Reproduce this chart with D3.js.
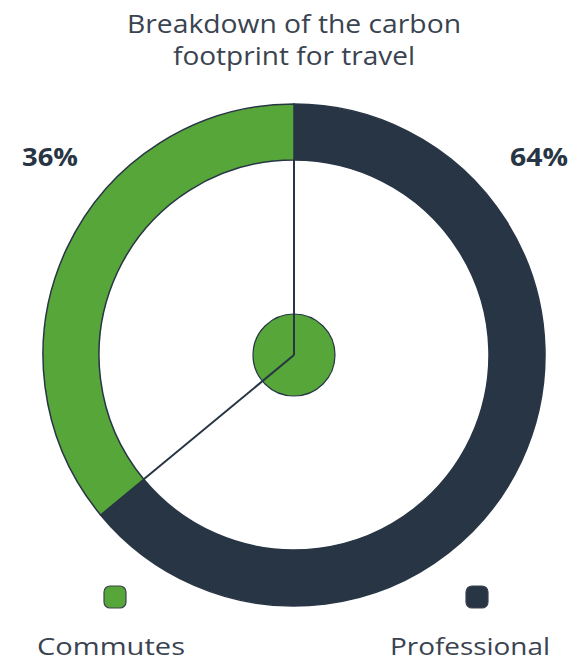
<!DOCTYPE html>
<html><head><meta charset="utf-8">
<script src="https://cdn.jsdelivr.net/npm/d3@7"></script>
<style>body{margin:0;background:#fff}svg{display:block}</style>
</head><body>
<svg id="c" width="574" height="661"></svg>
<script>
const categories = ["Professional", "Commutes"];
const values = [64, 36];
const labels = ["64%", "36%"];
const titleLines = ["Breakdown of the carbon", "footprint for travel"];
const colors = ["#283545", "#56a639"];

const svg = d3.select("#c");
const font = "'Open Sans', sans-serif";
const cx = 294, cy = 355, rOuter = 251, rInner = 195, rCenter = 41;

function txt(x, y, s, size, weight, fill, len) {
  return svg.append("text").attr("x", x).attr("y", y).attr("text-anchor", "middle")
    .attr("font-family", font).attr("font-size", size).attr("font-weight", weight)
    .attr("fill", fill).attr("textLength", len).attr("lengthAdjust", "spacingAndGlyphs").text(s);
}

txt(cx, 33, titleLines[0], 25, 400, "#3a4350", 334);
txt(cx, 65, titleLines[1], 25, 400, "#3a4350", 242);

const pie = d3.pie().sort(null).value(d=>d)(values);
const arc = d3.arc().innerRadius(rInner).outerRadius(rOuter);
const g = svg.append("g").attr("transform",`translate(${cx},${cy})`);
g.selectAll("path").data(pie).join("path")
  .attr("d",arc).attr("fill",(d,i)=>colors[i])
  .attr("stroke","#283545").attr("stroke-width",1.5);

g.append("circle").attr("r",rCenter).attr("fill",colors[1]).attr("stroke","#283545").attr("stroke-width",1.2);
const angles = [pie[0].startAngle, pie[0].endAngle];
angles.forEach(a=>{
  g.append("line").attr("x1",0).attr("y1",0)
   .attr("x2",rInner*Math.sin(a)).attr("y2",-rInner*Math.cos(a))
   .attr("stroke","#283545").attr("stroke-width",2);
});

// percent labels
txt(50, 166, labels[1], 25, 700, "#283545", 56);
txt(539, 166, labels[0], 25, 700, "#283545", 58);

// legend
const leg = [{x:115, i:1},{x:477, i:0}];
leg.forEach(l=>{
  svg.append("rect").attr("x",l.x-11).attr("y",586).attr("width",22).attr("height",22).attr("rx",6)
    .attr("fill",colors[l.i]).attr("stroke","#3a4350").attr("stroke-width",1.2);
});
txt(111, 655, categories[1], 24, 400, "#3a4350", 148);
txt(470, 655, categories[0], 24, 400, "#3a4350", 160);
</script>
</body></html>
